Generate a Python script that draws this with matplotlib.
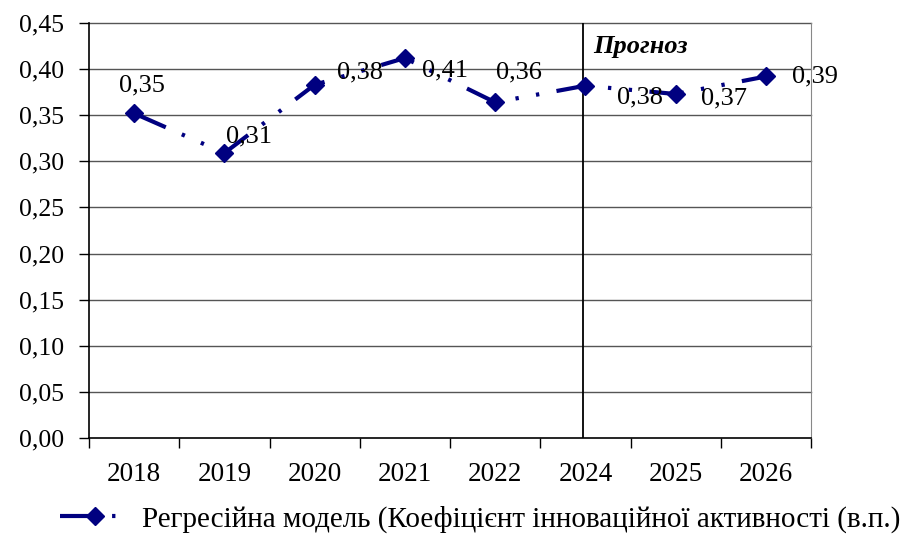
import matplotlib
matplotlib.use("Agg")
import matplotlib.pyplot as plt
import numpy as np

categories = ["2018", "2019", "2020", "2021", "2022", "2024", "2025", "2026"]
values = [0.352, 0.309, 0.383, 0.412, 0.364, 0.382, 0.373, 0.392]
value_labels = ["0,35", "0,31", "0,38", "0,41", "0,36", "0,38", "0,37", "0,39"]
yticks = [0.00, 0.05, 0.10, 0.15, 0.20, 0.25, 0.30, 0.35, 0.40, 0.45]
ytick_labels = ["0,00", "0,05", "0,10", "0,15", "0,20", "0,25", "0,30", "0,35", "0,40", "0,45"]
series_name = "Регресійна модель (Коефіцієнт інноваційної активності (в.п.)"
forecast_text = "Прогноз"
forecast_start = "2024"

# label offsets in pixels (dx, dy)
label_offsets = [(8, 28), (25, 17), (45, 12), (40, -12), (24, 30), (55, -12), (48, -4), (49, 0)]

plt.rcParams['font.family'] = ['Liberation Serif', 'DejaVu Serif']

W, H = 901, 536
fig = plt.figure(figsize=(W / 100, H / 100), dpi=100)
L, R, T, B = 89, 811, 23, 438
ax = fig.add_axes([L / W, 1 - B / H, (R - L) / W, (B - T) / H])

navy = "#000080"
x = np.arange(len(categories))
line, = ax.plot(x, values, color=navy, lw=3.0, marker="D", markersize=9,
                markeredgecolor=navy, markerfacecolor=navy,
                linestyle=(0, (8.3, 4.2, 0.8, 4.2, 0.8, 4.2)),
                dash_capstyle='butt', zorder=5, label=series_name)

for xi, v, lab, (dx, dy) in zip(x, values, value_labels, label_offsets):
    ax.annotate(lab, (xi, v), xytext=(dx, dy), textcoords='offset pixels',
                ha='center', va='center', fontsize=19, color='black', zorder=6)

ax.set_xlim(-0.5, len(categories) - 0.5)
ax.set_ylim(0, 0.45)

for yt in yticks[1:]:
    ax.axhline(yt, color='#555555', lw=1.0, zorder=1, clip_on=False)

fx = categories.index(forecast_start)
ax.axvline(fx - 0.03, color='black', lw=1.3, zorder=2)

ax.set_yticks(yticks)
ax.set_yticklabels(ytick_labels, fontsize=18.5)
ax.set_xticks(np.arange(len(categories) + 1) - 0.5)
ax.set_xticklabels([])
ax.set_xticks(x, minor=True)
ax.set_xticklabels(categories, minor=True, fontsize=19.5)
ax.tick_params(axis='x', which='minor', length=0, pad=17)
ax.tick_params(axis='x', which='major', length=7, width=1, direction='out')
ax.tick_params(axis='y', length=7, width=1, direction='out', pad=11)

ax.spines['top'].set_visible(False)
ax.spines['right'].set_color('#888888')
ax.spines['left'].set_linewidth(1.2)
ax.spines['bottom'].set_linewidth(1.2)

fig.text(593 / W, 1 - 47 / H, forecast_text, fontsize=19, fontweight='bold',
         fontstyle='italic', ha='left', va='center')

fig.legend(handles=[line], loc='center', bbox_to_anchor=(480 / W, 1 - 519 / H),
           frameon=False, fontsize=21, handlelength=2.4, handletextpad=0.4,
           numpoints=1)

fig.savefig("out.png", dpi=100)
